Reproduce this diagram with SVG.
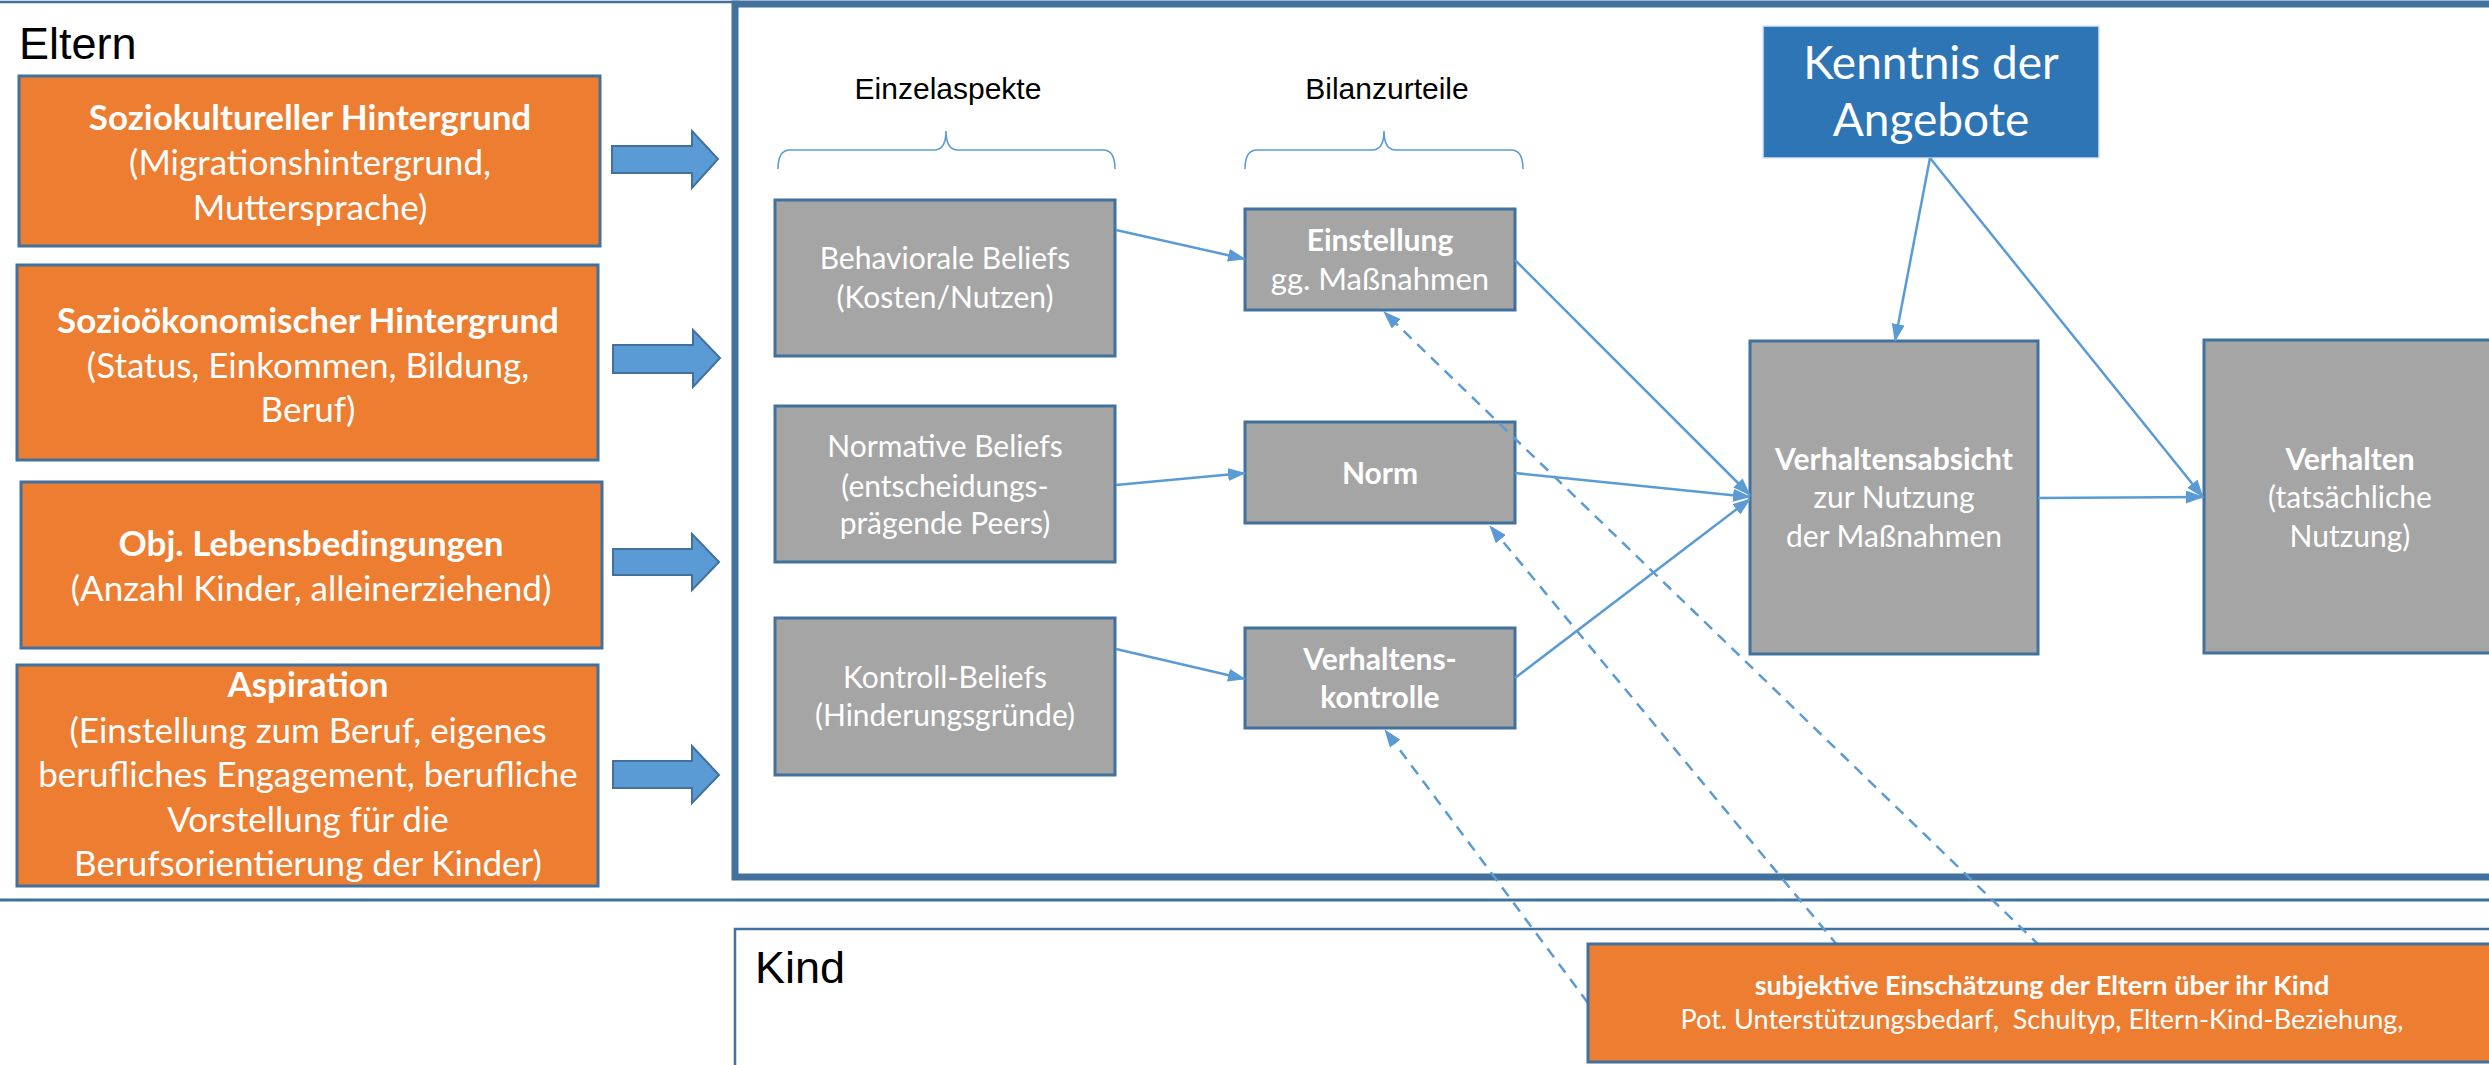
<svg xmlns="http://www.w3.org/2000/svg" width="2489" height="1065" viewBox="0 0 2489 1065">
<defs>
<style>
.orange{fill:#ED7D31;stroke:#41719C;stroke-width:3}
.gray{fill:#A5A5A5;stroke:#41719C;stroke-width:3}
.blockarrow{fill:#5B9BD5;stroke:#41719C;stroke-width:2}
.ot{font-family:Lato,"Open Sans",sans-serif;fill:#FFFFFF;text-anchor:middle;font-size:35px}
.gt{font-family:Lato,"Open Sans",sans-serif;fill:#FFFFFF;text-anchor:middle;font-size:30px}
.b{font-weight:bold}
.lbl{font-family:"Liberation Sans",Arial,sans-serif;fill:#000000}
.conn{stroke:#5B9BD5;stroke-width:2.5;fill:none;marker-end:url(#ah)}
.dash{stroke:#5B9BD5;stroke-width:2.5;fill:none;stroke-dasharray:11 8;marker-end:url(#ah)}
.brace{stroke:#5B9BD5;stroke-width:1.6;fill:none}
</style>
<marker id="ah" viewBox="0 0 18 13" refX="17" refY="6.5" markerWidth="18" markerHeight="13" markerUnits="userSpaceOnUse" orient="auto">
<path d="M0,0 L18,6.5 L0,13 Z" fill="#5B9BD5"/>
</marker>
</defs>
<rect x="0" y="0" width="2489" height="1065" fill="#FFFFFF"/>

<g id="eltern-region">
<line x1="0" y1="2" x2="740" y2="2" stroke="#41719C" stroke-width="2.5"/>
<line x1="0" y1="900" x2="2489" y2="900" stroke="#41719C" stroke-width="3"/>
<text class="lbl" x="19" y="59" font-size="45">Eltern</text>
</g>

<g id="model-frame">
<rect x="735" y="4" width="1800" height="873" fill="none" stroke="#41719C" stroke-width="7"/>
</g>

<g id="kind-region">
<rect x="735" y="929" width="1800" height="200" fill="none" stroke="#41719C" stroke-width="2.5"/>
<text class="lbl" x="755" y="983" font-size="45">Kind</text>
</g>

<g id="soziokulturell">
<rect class="orange" x="19" y="76" width="581" height="170"/>
<text class="ot" x="310"><tspan class="b" x="310" y="130">Soziokultureller Hintergrund</tspan><tspan x="310" y="175">(Migrationshintergrund,</tspan><tspan x="310" y="220">Muttersprache)</tspan></text>
</g>
<g id="soziooekonomisch">
<rect class="orange" x="17" y="265" width="581" height="195"/>
<text class="ot" x="308"><tspan class="b" x="308" y="333">Sozioökonomischer Hintergrund</tspan><tspan x="308" y="378">(Status, Einkommen, Bildung,</tspan><tspan x="308" y="422">Beruf)</tspan></text>
</g>
<g id="lebensbedingungen">
<rect class="orange" x="21" y="482" width="581" height="166"/>
<text class="ot" x="311"><tspan class="b" x="311" y="556">Obj. Lebensbedingungen</tspan><tspan x="311" y="601">(Anzahl Kinder, alleinerziehend)</tspan></text>
</g>
<g id="aspiration">
<rect class="orange" x="17" y="665" width="581" height="221"/>
<text class="ot" x="308"><tspan class="b" x="308" y="697">Aspiration</tspan><tspan x="308" y="743">(Einstellung zum Beruf, eigenes</tspan><tspan x="308" y="787">berufliches Engagement, berufliche</tspan><tspan x="308" y="832">Vorstellung für die</tspan><tspan x="308" y="876">Berufsorientierung der Kinder)</tspan></text>
</g>

<g id="block-arrows">
<path class="blockarrow" d="M612,146 L692,146 L692,131 L718,159 L692,188 L692,173 L612,173 Z"/>
<path class="blockarrow" d="M613,345 L693,345 L693,330 L720,358 L693,387 L693,373 L613,373 Z"/>
<path class="blockarrow" d="M613,549 L692,549 L692,534 L719,562 L692,590 L692,575 L613,575 Z"/>
<path class="blockarrow" d="M613,761 L692,761 L692,746 L719,775 L692,803 L692,788 L613,788 Z"/>
</g>

<g id="headers">
<text class="lbl" x="948" y="99" font-size="30" text-anchor="middle">Einzelaspekte</text>
<text class="lbl" x="1387" y="99" font-size="30" text-anchor="middle">Bilanzurteile</text>
<path class="brace" d="M778,169 Q778,150 790,150 L934,150 Q946,150 946,131 Q946,150 958,150 L1103,150 Q1115,150 1115,169"/>
<path class="brace" d="M1245,169 Q1245,150 1257,150 L1372,150 Q1384,150 1384,131 Q1384,150 1396,150 L1511,150 Q1523,150 1523,169"/>
</g>

<g id="behavioral-beliefs">
<rect class="gray" x="775" y="200" width="340" height="156"/>
<text class="gt" x="945"><tspan x="945" y="269">Behaviorale Beliefs</tspan><tspan x="945" y="308">(Kosten/Nutzen)</tspan></text>
</g>
<g id="normative-beliefs">
<rect class="gray" x="775" y="406" width="340" height="156"/>
<text class="gt" x="945"><tspan x="945" y="457">Normative Beliefs</tspan><tspan x="945" y="497">(entscheidungs-</tspan><tspan x="945" y="534">prägende Peers)</tspan></text>
</g>
<g id="kontroll-beliefs">
<rect class="gray" x="775" y="618" width="340" height="157"/>
<text class="gt" x="945"><tspan x="945" y="688">Kontroll-Beliefs</tspan><tspan x="945" y="726">(Hinderungsgründe)</tspan></text>
</g>

<g id="einstellung">
<rect class="gray" x="1245" y="209" width="270" height="101"/>
<text class="gt" x="1380"><tspan class="b" x="1380" y="251">Einstellung</tspan><tspan x="1380" y="290" style="font-size:31px">gg. Maßnahmen</tspan></text>
</g>
<g id="norm">
<rect class="gray" x="1245" y="422" width="270" height="101"/>
<text class="gt b" x="1380" y="484">Norm</text>
</g>
<g id="verhaltenskontrolle">
<rect class="gray" x="1245" y="628" width="270" height="100"/>
<text class="gt b" x="1380"><tspan x="1380" y="670">Verhaltens-</tspan><tspan x="1380" y="708">kontrolle</tspan></text>
</g>

<g id="kenntnis">
<rect x="1763" y="26" width="336" height="132" fill="#2E75B6" stroke="#DAE3F3" stroke-width="1.5"/>
<text class="gt" x="1931" style="font-size:46px"><tspan x="1931" y="79">Kenntnis der</tspan><tspan x="1931" y="136">Angebote</tspan></text>
</g>

<g id="verhaltensabsicht">
<rect class="gray" x="1750" y="341" width="288" height="313"/>
<text class="gt" x="1894"><tspan class="b" x="1894" y="470">Verhaltensabsicht</tspan><tspan x="1894" y="508">zur Nutzung</tspan><tspan x="1894" y="547">der Maßnahmen</tspan></text>
</g>
<g id="verhalten">
<rect class="gray" x="2204" y="340" width="300" height="313"/>
<text class="gt" x="2350"><tspan class="b" x="2350" y="470">Verhalten</tspan><tspan x="2350" y="508">(tatsächliche</tspan><tspan x="2350" y="547">Nutzung)</tspan></text>
</g>

<g id="connectors">
<line class="conn" x1="1116" y1="230" x2="1245" y2="259"/>
<line class="conn" x1="1116" y1="485" x2="1245" y2="473"/>
<line class="conn" x1="1116" y1="649" x2="1245" y2="679"/>
<line class="conn" x1="1515" y1="260" x2="1750" y2="495"/>
<line class="conn" x1="1515" y1="473" x2="1750" y2="497"/>
<line class="conn" x1="1515" y1="678" x2="1750" y2="499"/>
<line class="conn" x1="1930" y1="158" x2="1895" y2="341"/>
<line class="conn" x1="1930" y1="158" x2="2203" y2="497"/>
<line class="conn" x1="2038" y1="498" x2="2203" y2="497"/>
<line class="dash" x1="2040" y1="946" x2="1384" y2="312"/>
<line class="dash" x1="1838" y1="946" x2="1490" y2="526"/>
<line class="dash" x1="1588" y1="1003" x2="1385" y2="730"/>
</g>

<g id="subjektive-einschaetzung">
<rect class="orange" x="1588" y="944" width="920" height="118"/>
<text class="ot" x="2042" style="font-size:27px" xml:space="preserve"><tspan class="b" x="2042" y="995">subjektive Einschätzung der Eltern über ihr Kind</tspan><tspan x="2042" y="1029">Pot. Unterstützungsbedarf,  Schultyp, Eltern-Kind-Beziehung,</tspan></text>
</g>
</svg>
